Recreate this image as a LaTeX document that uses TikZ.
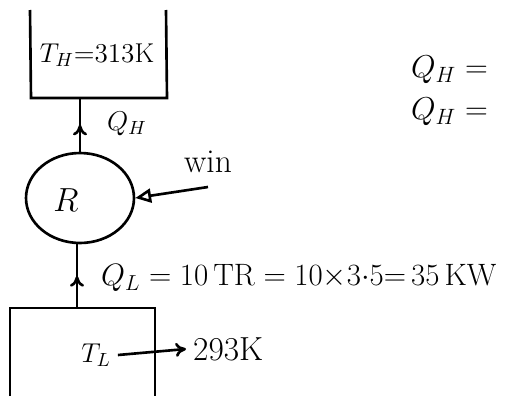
\RequirePackage{fix-cm}
\documentclass[tikz,border=0pt]{standalone}
\usepackage{amsmath,amssymb}
\usetikzlibrary{shapes.geometric,decorations.markings,arrows.meta}

\tikzset{
  midarrow/.style={postaction={decorate},
    decoration={markings,mark=at position 0.5 with {\arrow{To[length=6pt,width=8pt]}}}},
  hand/.style={font=\fontsize{15.5}{17}\selectfont},
  bigtext/.style={font=\fontsize{19}{21}\selectfont}
}

\begin{document}
\begin{tikzpicture}[x=0.02cm,y=-0.02cm,line width=1.5pt]
\useasboundingbox (0,0) rectangle (513,396);
% hot reservoir, open at the top
\draw (30,10) -- (31,98) -- (167,98) -- (166,10);
\coordinate (hotbase) at (84,98);
\node[hand] (hotT) at (97,55) {$T_H{=}313$K};
% refrigerator
\node[draw,ellipse,minimum width=2.16cm,minimum height=1.8cm] (R) at (80,198) {};
\node[bigtext] (Rlbl) at (66,200) {$R$};
\draw[midarrow] (R.north) -- (R.north |- hotbase);
\node[hand,anchor=west] (QH) at (100,124) {$Q_H$};
% work input
\coordinate (win) at (208,187);
\draw[-{Triangle[open,length=9pt,width=8pt]}] (win) -- (R.east);
\node[bigtext] (winlbl) at (208,162) {win};
% cold reservoir, open at the bottom
\coordinate (coldtop) at (77,308);
\draw (10,396) -- (10,308) -- (155,308) -- (155,396);
\draw[midarrow] (coldtop) -- (coldtop |- R.south);
\node[font=\fontsize{17.6}{19}\selectfont,anchor=west] (QL) at (94,278) {$Q_L = 10\,\mathrm{TR} = 10{\times}3{\cdot}5{=}\,35\,\mathrm{KW}$};
\node[hand] (TL) at (96,355) {$T_L$};
\coordinate (tlend) at (186,349);
\draw[-{To[length=6pt,width=8pt]}] (TL.east) -- (tlend);
\node[bigtext,anchor=west] (TLval) at (tlend) {293K};
% right side
\node[font=\fontsize{18}{20}\selectfont,anchor=west] (QH1) at (404,70) {$Q_H =$};
\node[font=\fontsize{18}{20}\selectfont,anchor=west] (QH2) at (404,112) {$Q_H =$};
\end{tikzpicture}
\end{document}
